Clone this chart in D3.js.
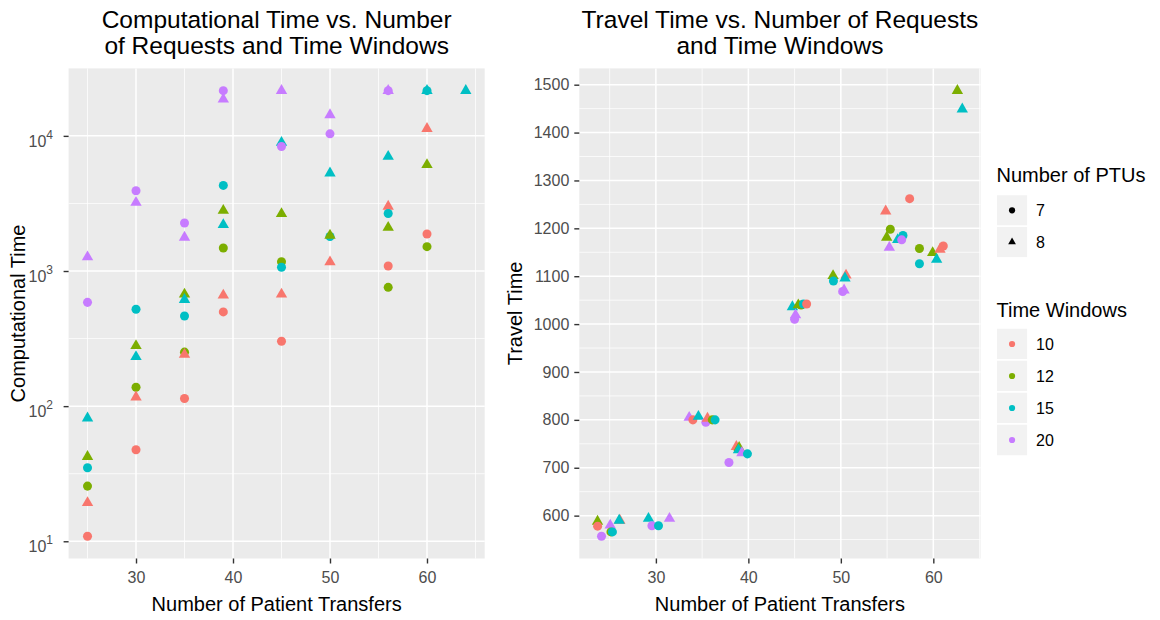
<!DOCTYPE html>
<html>
<head>
<meta charset="utf-8">
<script src="https://cdn.jsdelivr.net/npm/d3@7"></script>
<style>
  body { margin: 0; background: #ffffff; }
  text { font-family: "Liberation Sans", Arial, sans-serif; }
</style>
</head>
<body>
<svg id="chart" width="1160" height="620"></svg>
<script>
// ---- Computational time (seconds), one entry per run ----
const compTransfers = [
  25, 25, 25, 25, 25, 25, 25, 25,
  30, 30, 30, 30, 30, 30, 30, 30,
  35, 35, 35, 35, 35, 35, 35, 35,
  39, 39, 39, 39, 39, 39, 39, 39,
  45, 45, 45, 45, 45, 45, 45, 45,
  50, 50, 50, 50, 50, 50,
  56, 56, 56, 56, 56, 56, 56, 56,
  60, 60, 60, 60, 60, 60,
  64
];
const compWindows = [
  20, 20, 15, 12, 15, 12, 10, 10,
  20, 20, 15, 12, 15, 12, 10, 10,
  20, 20, 12, 15, 15, 12, 10, 10,
  20, 20, 15, 12, 15, 12, 10, 10,
  20, 15, 20, 12, 12, 15, 10, 10,
  20, 20, 15, 15, 12, 10,
  20, 20, 15, 10, 15, 12, 10, 12,
  15, 15, 10, 12, 10, 12,
  15
];
const compPTUs = [
  8, 7, 8, 8, 7, 7, 8, 7,
  7, 8, 7, 8, 8, 7, 8, 7,
  7, 8, 8, 8, 7, 7, 8, 7,
  7, 8, 7, 8, 8, 7, 8, 7,
  8, 8, 7, 8, 7, 7, 8, 7,
  8, 7, 8, 7, 8, 8,
  7, 8, 8, 8, 7, 8, 7, 7,
  7, 8, 8, 8, 7, 7,
  8
];
const compSeconds = [
  1270, 586, 81.5, 42.3, 35, 25.6, 19.3, 10.9,
  3930, 3215, 521, 280, 232, 138, 116.6, 47.6,
  2265, 1774, 673, 614, 465, 251, 241, 114,
  21600, 18650, 4300, 2806, 2198, 1479, 661, 498,
  21600, 8930, 8340, 2655, 1172, 1065, 673, 302,
  14300, 10350, 5300, 1800, 1836, 1165,
  21600, 21600, 7030, 3005, 2665, 2100, 1090, 757,
  21600, 21600, 11320, 6110, 1880, 1514,
  21600
];

// ---- Travel time, one entry per run (transfers jittered) ----
const travelTransfers = [
  23.69, 23.70, 24.12, 25.06, 25.14, 25.30, 26.10, 26.03,
  29.20, 29.57, 30.28, 31.47,
  33.60, 34.00, 34.60, 35.40, 35.58, 36.10, 36.40,
  38.70, 39.00, 38.93, 39.30, 39.90, 37.90,
  44.76, 45.40, 45.70, 45.95, 46.30, 45.00, 45.10,
  49.16, 49.20, 50.56, 50.45, 50.35, 50.20,
  54.85, 55.35, 54.96, 55.24, 56.15, 56.72, 56.58, 57.44,
  58.50, 58.50, 59.93, 60.36, 60.72, 61.08,
  62.60, 63.13
];
const travelWindows = [
  12, 10, 20, 20, 12, 15, 10, 15,
  15, 20, 15, 20,
  20, 10, 15, 20, 10, 12, 15,
  10, 12, 15, 20, 15, 20,
  15, 12, 12, 15, 10, 20, 20,
  12, 15, 10, 15, 20, 20,
  10, 12, 12, 20, 15, 15, 20, 10,
  12, 15, 12, 15, 10, 10,
  12, 15
];
const travelPTUs = [
  8, 7, 7, 8, 7, 7, 8, 8,
  8, 7, 7, 8,
  8, 7, 8, 7, 8, 7, 7,
  8, 8, 8, 8, 7, 7,
  8, 8, 7, 7, 7, 7, 8,
  8, 7, 8, 8, 8, 7,
  8, 7, 8, 8, 8, 7, 7, 7,
  7, 7, 8, 8, 8, 7,
  8, 8
];
const travelTimes = [
  588, 578, 557, 580, 566, 566, 590, 590,
  594, 579, 579, 594,
  805, 800, 807, 795, 803, 800, 800,
  744, 742, 737, 731, 729, 711,
  1036, 1040, 1040, 1042, 1042, 1010, 1019,
  1101, 1090, 1102, 1096, 1071, 1068,
  1236, 1198, 1181, 1160, 1176, 1185, 1176, 1262,
  1158, 1126, 1149, 1135, 1156, 1163,
  1487.5, 1449
];

// ---- Tick labels and legend entries ----
const xTicks = [30, 40, 50, 60];
const compTickPowers = [1, 2, 3, 4];
const travelTicks = [600, 700, 800, 900, 1000, 1100, 1200, 1300, 1400, 1500];
const windowLevels = [10, 12, 15, 20];
const windowColors = ["#F8766D", "#7CAE00", "#00BFC4", "#C77CFF"];
const ptuLevels = [7, 8];

const svg = d3.select("#chart");
const color = d3.scaleOrdinal().domain(windowLevels).range(windowColors);

const panelTop = 68.4, panelBottom = 558.5;

function expand(lo, hi) {
  const p = (hi - lo) * 0.05;
  return [lo - p, hi + p];
}

function rows(xs, ws, ps, vs) {
  return xs.map((x, i) => ({ x: x, tw: ws[i], ptu: ps[i], v: vs[i] }));
}

const compData = rows(compTransfers, compWindows, compPTUs, compSeconds);
const travelData = rows(travelTransfers, travelWindows, travelPTUs, travelTimes);

// ---- Scales ----
const xLeft = d3.scaleLinear()
  .domain(expand(d3.min(compTransfers), d3.max(compTransfers)))
  .range([68.6, 484.7]);
const logExt = expand(Math.log10(d3.min(compSeconds)), Math.log10(d3.max(compSeconds)));
const yLeft = d3.scaleLog()
  .domain([Math.pow(10, logExt[0]), Math.pow(10, logExt[1])])
  .range([panelBottom, panelTop]);

const xRight = d3.scaleLinear()
  .domain(expand(d3.min(travelTransfers), d3.max(travelTransfers)))
  .range([579.3, 980.5]);
const yRight = d3.scaleLinear()
  .domain(expand(d3.min(travelTimes), d3.max(travelTimes)))
  .range([panelBottom, panelTop]);

const circleSym = d3.symbol().type(d3.symbolCircle).size(64)();
const triSym = d3.symbol().type(d3.symbolTriangle).size(56)();

function panel(x, y, xMinor, yMajor, yMinor) {
  const [x0, x1] = x.range();
  const g = svg.append("g");
  g.append("rect")
    .attr("x", x0).attr("y", panelTop)
    .attr("width", x1 - x0).attr("height", panelBottom - panelTop)
    .attr("fill", "#EBEBEB");
  // minor grid
  g.selectAll(".vmin").data(xMinor.filter(d => x(d) >= x0 && x(d) <= x1)).join("line")
    .attr("x1", d => x(d)).attr("x2", d => x(d))
    .attr("y1", panelTop).attr("y2", panelBottom)
    .attr("stroke", "#ffffff").attr("stroke-width", 0.75);
  g.selectAll(".hmin").data(yMinor.filter(d => y(d) >= panelTop && y(d) <= panelBottom)).join("line")
    .attr("x1", x0).attr("x2", x1)
    .attr("y1", d => y(d)).attr("y2", d => y(d))
    .attr("stroke", "#ffffff").attr("stroke-width", 0.75);
  // major grid
  g.selectAll(".vmaj").data(xTicks).join("line")
    .attr("x1", d => x(d)).attr("x2", d => x(d))
    .attr("y1", panelTop).attr("y2", panelBottom)
    .attr("stroke", "#ffffff").attr("stroke-width", 1.5);
  g.selectAll(".hmaj").data(yMajor).join("line")
    .attr("x1", x0).attr("x2", x1)
    .attr("y1", d => y(d)).attr("y2", d => y(d))
    .attr("stroke", "#ffffff").attr("stroke-width", 1.5);

  // x axis
  const xa = svg.append("g")
    .attr("transform", `translate(0,${panelBottom})`)
    .call(d3.axisBottom(x).tickValues(xTicks).tickSize(5).tickSizeOuter(0).tickPadding(8)
      .tickFormat(d3.format("d")));
  xa.select(".domain").remove();
  xa.selectAll(".tick line").attr("stroke", "#333333").attr("stroke-width", 1.4);
  xa.selectAll(".tick text").attr("fill", "#4D4D4D").attr("font-size", 16)
    .style("font-family", '"Liberation Sans", Arial, sans-serif');
  return g;
}

function points(data, x, y) {
  svg.append("g").selectAll("path").data(data).join("path")
    .attr("d", d => d.ptu === 7 ? circleSym : triSym)
    .attr("transform", d => `translate(${x(d.x)},${y(d.v)})`)
    .attr("fill", d => color(d.tw));
}

// ---- Left panel ----
const leftMajor = compTickPowers.map(p => Math.pow(10, p));
const leftMinor = [0.5, 1.5, 2.5, 3.5, 4.5].map(p => Math.pow(10, p));
panel(xLeft, yLeft, [25, 35, 45, 55, 65], leftMajor, leftMinor);

const yaL = svg.append("g")
  .attr("transform", `translate(${xLeft.range()[0]},0)`)
  .call(d3.axisLeft(yLeft).tickValues(leftMajor).tickSize(5).tickSizeOuter(0).tickFormat(""));
yaL.select(".domain").remove();
yaL.selectAll(".tick line").attr("stroke", "#333333").attr("stroke-width", 1.4);
compTickPowers.forEach(p => {
  const ty = yLeft(Math.pow(10, p));
  const t = svg.append("text")
    .attr("x", 53).attr("y", ty + 11)
    .attr("text-anchor", "end")
    .attr("fill", "#4D4D4D").attr("font-size", 16);
  t.append("tspan").text("10");
  t.append("tspan").attr("font-size", 12).attr("dy", -8).text(String(p));
});

points(compData, xLeft, yLeft);

// ---- Right panel ----
const rightMinor = d3.range(550, 1600, 100);
panel(xRight, yRight, [25, 35, 45, 55, 65], travelTicks, rightMinor);

const yaR = svg.append("g")
  .attr("transform", `translate(${xRight.range()[0]},0)`)
  .call(d3.axisLeft(yRight).tickValues(travelTicks).tickSize(5).tickSizeOuter(0).tickPadding(5)
    .tickFormat(d3.format("d")));
yaR.select(".domain").remove();
yaR.selectAll(".tick line").attr("stroke", "#333333").attr("stroke-width", 1.4);
yaR.selectAll(".tick text").attr("fill", "#4D4D4D").attr("font-size", 16)
  .style("font-family", '"Liberation Sans", Arial, sans-serif');

points(travelData, xRight, yRight);

// ---- Titles ----
function title(cx, lines) {
  lines.forEach((s, i) => {
    svg.append("text")
      .attr("x", cx).attr("y", 28 + i * 26)
      .attr("text-anchor", "middle")
      .attr("font-size", 24.5).attr("fill", "#000000")
      .text(s);
  });
}
title((xLeft.range()[0] + xLeft.range()[1]) / 2,
  ["Computational Time vs. Number", "of Requests and Time Windows"]);
title((xRight.range()[0] + xRight.range()[1]) / 2,
  ["Travel Time vs. Number of Requests", "and Time Windows"]);

// ---- Axis titles ----
[xLeft, xRight].forEach(x => {
  svg.append("text")
    .attr("x", (x.range()[0] + x.range()[1]) / 2).attr("y", 611)
    .attr("text-anchor", "middle").attr("font-size", 20).attr("fill", "#000000")
    .text("Number of Patient Transfers");
});
[[25, "Computational Time"], [522, "Travel Time"]].forEach(([bx, s]) => {
  svg.append("text")
    .attr("transform", `translate(${bx},${(panelTop + panelBottom) / 2}) rotate(-90)`)
    .attr("text-anchor", "middle").attr("font-size", 20).attr("fill", "#000000")
    .text(s);
});

// ---- Legends ----
const lg = svg.append("g");
const keyX = 996.2, keyW = 31.7, keyH = 31.7;

lg.append("text").attr("x", 996.5).attr("y", 182)
  .attr("font-size", 20).attr("fill", "#000000").text("Number of PTUs");
ptuLevels.forEach((lvl, i) => {
  const ky = 194.5 + i * keyH;
  lg.append("rect").attr("x", keyX).attr("y", ky).attr("width", keyW).attr("height", keyH)
    .attr("fill", "#F2F2F2").attr("stroke", "#ffffff").attr("stroke-width", 1.5);
  lg.append("path")
    .attr("d", d3.symbol().type(lvl === 7 ? d3.symbolCircle : d3.symbolTriangle).size(lvl === 7 ? 30 : 26)())
    .attr("transform", `translate(${keyX + keyW / 2},${ky + keyH / 2})`)
    .attr("fill", "#000000");
  lg.append("text").attr("x", 1036).attr("y", ky + keyH / 2 + 6)
    .attr("font-size", 16).attr("fill", "#000000").text(lvl);
});

lg.append("text").attr("x", 996.5).attr("y", 316.5)
  .attr("font-size", 20).attr("fill", "#000000").text("Time Windows");
windowLevels.forEach((lvl, i) => {
  const ky = 328 + i * 32;
  lg.append("rect").attr("x", keyX).attr("y", ky).attr("width", keyW).attr("height", 32)
    .attr("fill", "#F2F2F2").attr("stroke", "#ffffff").attr("stroke-width", 1.5);
  lg.append("path")
    .attr("d", d3.symbol().type(d3.symbolCircle).size(30)())
    .attr("transform", `translate(${keyX + keyW / 2},${ky + 16})`)
    .attr("fill", color(lvl));
  lg.append("text").attr("x", 1036).attr("y", ky + 16 + 6)
    .attr("font-size", 16).attr("fill", "#000000").text(lvl);
});
</script>
</body>
</html>
